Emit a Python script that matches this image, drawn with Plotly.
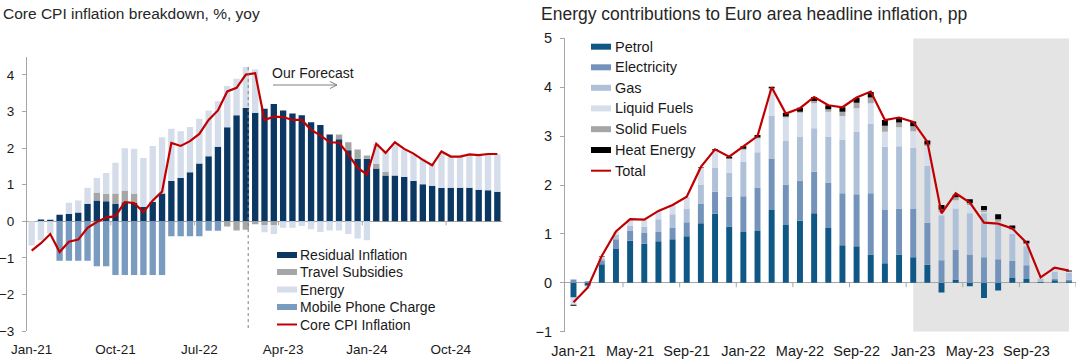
import plotly.graph_objects as go

W, H = 1080, 359
FONT = "Arial, 'Liberation Sans', sans-serif"

# ---------------- Left chart data ----------------
left_months = [
    "Jan-21", "Feb-21", "Mar-21", "Apr-21", "May-21", "Jun-21", "Jul-21", "Aug-21", "Sep-21", "Oct-21", "Nov-21", "Dec-21",
    "Jan-22", "Feb-22", "Mar-22", "Apr-22", "May-22", "Jun-22", "Jul-22", "Aug-22", "Sep-22", "Oct-22", "Nov-22", "Dec-22",
    "Jan-23", "Feb-23", "Mar-23", "Apr-23", "May-23", "Jun-23", "Jul-23", "Aug-23", "Sep-23", "Oct-23", "Nov-23", "Dec-23",
    "Jan-24", "Feb-24", "Mar-24", "Apr-24", "May-24", "Jun-24", "Jul-24", "Aug-24", "Sep-24", "Oct-24", "Nov-24", "Dec-24",
    "Jan-25", "Feb-25", "Mar-25",
]
left_tick_labels = ["Jan-21", "Oct-21", "Jul-22", "Apr-23", "Jan-24", "Oct-24"]

residual = [0, 0.05, 0.04, 0.18, 0.2, 0.24, 0.48, 0.57, 0.55, 0.47,
            0.52, 0.5, 0.39, 0.53, 0.76, 1.1, 1.18, 1.34, 1.58, 1.78,
            2.04, 2.57, 2.9, 3.1, 2.97, 3.08, 3.21, 3.03, 2.95, 2.9,
            2.71, 2.63, 2.37, 2.24, 1.94, 1.71, 1.71, 1.44, 1.25, 1.25,
            1.21, 1.1, 1.01, 0.97, 0.91, 0.92, 0.92, 0.92, 0.86, 0.85, 0.81]
travel = [0, 0, 0, 0, 0, 0, 0, 0.22, 0.2, 0.29,
          0.32, 0.26, 0, 0, 0, 0, 0, 0, 0, 0,
          0, -0.14, -0.25, -0.23, -0.08, -0.1, -0.1, 0, 0, 0,
          0, 0, 0, 0.13, 0.22, 0.25, 0.09, 0.13, 0.1, 0,
          0, 0, 0, 0, 0, 0, 0, 0, 0, 0, 0]
energy_core = [-0.66, -0.52, -0.34, 0, 0.31, 0.33, 0.44, 0.39, 0.57, 0.84,
               1.16, 1.22, 1.34, 1.53, 1.54, 1.43, 1.28, 1.24, 1.22, 1.25,
               1.24, 1.13, 1.0, 1.12, 1.18, -0.2, -0.25, -0.18, -0.18, -0.13,
               -0.22, -0.29, -0.25, -0.25, -0.35, -0.47, -0.52, 0.55, 0.55, 0.85,
               0.75, 0.73, 0.7, 0.6, 0.97, 0.85, 0.85, 0.9, 0.95, 0.98, 1.02]
mobile = [0, 0, 0, -1.08, -1.08, -1.08, -1.08, -1.23, -1.23, -1.47,
          -1.47, -1.47, -1.47, -1.47, -1.47, -0.41, -0.41, -0.41, -0.41, -0.26,
          -0.26, 0, 0, 0, 0, 0, 0, 0, 0, 0,
          0, 0, 0, 0, 0, 0, 0, 0, 0, 0,
          0, 0, 0, 0, 0, 0, 0, 0, 0, 0, 0]
core_cpi = [-0.8, -0.6, -0.35, -0.84, -0.56, -0.5, -0.18, -0.02, 0.1, 0.14,
            0.52, 0.5, 0.25, 0.57, 0.81, 2.14, 2.06, 2.19, 2.39, 2.77,
            3.03, 3.55, 3.65, 4.01, 4.05, 2.77, 2.86, 2.85, 2.77, 2.77,
            2.5, 2.35, 2.16, 2.15, 1.83, 1.46, 1.28, 2.12, 1.87, 2.16,
            1.98, 1.85, 1.68, 1.53, 1.91, 1.77, 1.77, 1.83, 1.81, 1.84, 1.84]

# ---------------- Right chart data ----------------
right_months = left_months[:36]
right_tick_labels = ["Jan-21", "May-21", "Sep-21", "Jan-22", "May-22", "Sep-22", "Jan-23", "May-23", "Sep-23"]

petrol = [-0.3, -0.06, 0.38, 0.69, 0.86, 0.8, 0.85, 0.89, 0.95, 1.22,
          1.41, 1.15, 1.04, 1.06, 1.49, 1.18, 1.27, 1.42, 1.12, 0.77,
          0.75, 0.58, 0.4, 0.58, 0.52, 0.37, -0.2, 0.07, -0.07, -0.31,
          -0.16, 0.1, 0.08, 0.02, 0.05, 0.03]
electricity = [0.06, 0.03, 0.08, 0.2, 0.2, 0.22, 0.19, 0.23, 0.29, 0.4,
               0.45, 0.61, 0.73, 0.89, 1.05, 0.83, 0.82, 0.85, 0.93, 1.06,
               1.06, 1.25, 1.09, 0.94, 1.0, 0.86, 0.46, 0.6, 0.58, 0.52,
               0.48, 0.35, 0.28, 0.0, 0.03, 0.03]
gas = [0.02, 0.0, 0.04, 0.1, 0.11, 0.12, 0.26, 0.28, 0.28, 0.39,
       0.5, 0.49, 0.7, 0.72, 0.87, 0.89, 0.9, 0.89, 0.94, 1.1,
       1.28, 1.43, 1.29, 1.27, 1.24, 1.16, 0.92, 0.85, 0.84, 0.9,
       0.7, 0.55, 0.39, 0.07, 0.15, 0.14]
liquid_fuels = [-0.15, -0.06, 0.03, 0.05, 0.13, 0.15, 0.17, 0.19, 0.24, 0.35,
                0.35, 0.29, 0.25, 0.28, 0.56, 0.48, 0.49, 0.51, 0.51, 0.48,
                0.48, 0.41, 0.31, 0.39, 0.34, 0.41, 0.07, 0.17, 0.17, 0.03,
                0.07, 0.08, 0.04, 0.02, 0.05, 0.03]
solid_fuels = [0, 0, 0, 0, 0, 0, 0, 0, 0, 0,
               0, 0, 0.02, 0.02, 0.01, 0.02, 0.02, 0.05, 0.05, 0.09,
               0.11, 0.12, 0.12, 0.1, 0.1, 0.03, 0.05, 0.06, 0.04, 0.04,
               0.05, 0.03, 0.02, 0, 0.01, 0]
heat_energy = [-0.02, 0, 0.01, 0, 0, 0, 0, 0, 0, 0.01,
               0.02, 0.04, 0.05, 0.05, 0.03, 0.08, 0.08, 0.08, 0.08, 0.09,
               0.1, 0.11, 0.12, 0.1, 0.1, 0.08, 0.09, 0.05, 0.08, 0.08,
               0.1, 0.06, 0.05, 0.0, 0.02, 0.02]
total_energy = [-0.4, -0.1, 0.55, 1.05, 1.3, 1.29, 1.47, 1.59, 1.76, 2.37,
                2.73, 2.58, 2.79, 3.0, 4.0, 3.46, 3.57, 3.8, 3.63, 3.59,
                3.79, 3.91, 3.33, 3.38, 3.29, 2.88, 1.42, 1.83, 1.64, 1.23,
                1.21, 1.11, 0.82, 0.11, 0.31, 0.25]

# ---------------- Styles ----------------
C_RES, C_TRAV, C_EN, C_MOB = "#0B3763", "#A6A6A6", "#D5DDEA", "#7A9BC0"
C_PET, C_ELEC, C_GAS, C_LIQ, C_SOL, C_HEAT = "#0F5886", "#7393BA", "#AFC1D8", "#D5DEEA", "#A6A6A6", "#000000"
RED = "#C00000"
AX = "#A6A6A6"
TXT = "#1A1A1A"


def px_x(px):
    return px / W


def px_y(py):
    return 1 - py / H


fig = go.Figure()

left_series = [("Residual Inflation", residual, C_RES), ("Travel Subsidies", travel, C_TRAV),
               ("Energy", energy_core, C_EN), ("Mobile Phone Charge", mobile, C_MOB)]
for name, vals, col in left_series:
    fig.add_trace(go.Bar(x=left_months, y=vals, name=name, width=0.68,
                         marker=dict(color=col, line=dict(width=0)),
                         xaxis="x", yaxis="y", showlegend=False))
fig.add_trace(go.Scatter(x=left_months, y=core_cpi, name="Core CPI Inflation", mode="lines",
                         line=dict(color=RED, width=2.2), xaxis="x", yaxis="y", showlegend=False))

right_series = [("Petrol", petrol, C_PET), ("Electricity", electricity, C_ELEC), ("Gas", gas, C_GAS),
                ("Liquid Fuels", liquid_fuels, C_LIQ), ("Solid Fuels", solid_fuels, C_SOL),
                ("Heat Energy", heat_energy, C_HEAT)]
for name, vals, col in right_series:
    fig.add_trace(go.Bar(x=right_months, y=vals, name=name, width=0.42,
                         marker=dict(color=col, line=dict(width=0)),
                         xaxis="x2", yaxis="y2", showlegend=False))
fig.add_trace(go.Scatter(x=right_months, y=total_energy, name="Total", mode="lines",
                         line=dict(color=RED, width=2.2), xaxis="x2", yaxis="y2", showlegend=False))

shapes = []
annotations = []

# forecast shading (right)
shapes.append(dict(type="rect", xref="x2", yref="y2", x0=24, x1=35, y0=-1, y1=5,
                   fillcolor="#E4E4E4", line=dict(width=0), layer="below"))
# forecast divider (left)
shapes.append(dict(type="line", xref="x", yref="y", x0=23.25, x1=23.25, y0=-2.92, y1=4.3,
                   line=dict(color="#7F7F7F", width=1, dash="dot")))
# small ticks on zero lines
for t in [8.5, 17.5, 26.5, 35.5, 44.5]:
    shapes.append(dict(type="line", xref="x", yref="y", x0=t, x1=t, y0=0, y1=-0.11,
                       line=dict(color=AX, width=1)))
for t in [3.5, 7.5, 11.5, 15.5, 19.5, 23.5, 27.5, 31.5, 35.5]:
    shapes.append(dict(type="line", xref="x2", yref="y2", x0=t, x1=t, y0=0, y1=-0.09,
                       line=dict(color=AX, width=1)))

# "Our Forecast" arrow
ax0, ax1, ay = 273, 337, 85
shapes.append(dict(type="path", xref="paper", yref="paper",
                   path=f"M{px_x(ax0)},{px_y(ay)} L{px_x(ax1)},{px_y(ay)} "
                        f"M{px_x(ax1 - 7)},{px_y(ay - 3.5)} L{px_x(ax1)},{px_y(ay)} L{px_x(ax1 - 7)},{px_y(ay + 3.5)}",
                   line=dict(color="#7F7F7F", width=1)))
annotations.append(dict(text="Our Forecast", xref="paper", yref="paper", x=px_x(270), y=px_y(72.5),
                        xanchor="left", yanchor="middle", showarrow=False,
                        font=dict(family=FONT, size=14, color=TXT)))

# titles
annotations.append(dict(text="Core CPI inflation breakdown, %, yoy", xref="paper", yref="paper",
                        x=px_x(1), y=px_y(14), xanchor="left", yanchor="middle", showarrow=False,
                        font=dict(family=FONT, size=15.5, color="#262626")))
annotations.append(dict(text="Energy contributions to Euro area headline inflation, pp", xref="paper", yref="paper",
                        x=px_x(539), y=px_y(14), xanchor="left", yanchor="middle", showarrow=False,
                        font=dict(family=FONT, size=17.5, color="#262626")))

# manual legends
left_leg = [("Residual Inflation", C_RES, "bar"), ("Travel Subsidies", C_TRAV, "bar"), ("Energy", C_EN, "bar"),
            ("Mobile Phone Charge", C_MOB, "bar"), ("Core CPI Inflation", RED, "line")]
left_rows = [255, 272, 289.5, 307, 324.5]
for (name, col, kind), ry in zip(left_leg, left_rows):
    if kind == "bar":
        shapes.append(dict(type="rect", xref="paper", yref="paper", x0=px_x(277), x1=px_x(297),
                           y0=px_y(ry + 3), y1=px_y(ry - 3), fillcolor=col, line=dict(width=0)))
    else:
        shapes.append(dict(type="line", xref="paper", yref="paper", x0=px_x(277), x1=px_x(297),
                           y0=px_y(ry), y1=px_y(ry), line=dict(color=col, width=2)))
    annotations.append(dict(text=name, xref="paper", yref="paper", x=px_x(298), y=px_y(ry),
                            xanchor="left", yanchor="middle", showarrow=False,
                            font=dict(family=FONT, size=14, color=TXT)))

right_leg = [("Petrol", C_PET, "bar"), ("Electricity", C_ELEC, "bar"), ("Gas", C_GAS, "bar"),
             ("Liquid Fuels", C_LIQ, "bar"), ("Solid Fuels", C_SOL, "bar"), ("Heat Energy", C_HEAT, "bar"),
             ("Total", RED, "line")]
right_rows = [46.7, 67.3, 87.8, 108.4, 129.2, 150.0, 170.7]
for (name, col, kind), ry in zip(right_leg, right_rows):
    if kind == "bar":
        shapes.append(dict(type="rect", xref="paper", yref="paper", x0=px_x(591), x1=px_x(611),
                           y0=px_y(ry + 3), y1=px_y(ry - 3), fillcolor=col, line=dict(width=0)))
    else:
        shapes.append(dict(type="line", xref="paper", yref="paper", x0=px_x(591), x1=px_x(611),
                           y0=px_y(ry), y1=px_y(ry), line=dict(color=col, width=2)))
    annotations.append(dict(text=name, xref="paper", yref="paper", x=px_x(612.5), y=px_y(ry),
                            xanchor="left", yanchor="middle", showarrow=False,
                            font=dict(family=FONT, size=14.5, color=TXT)))

fig.update_layout(
    width=W, height=H,
    margin=dict(l=0, r=0, t=0, b=0, autoexpand=False),
    paper_bgcolor="white", plot_bgcolor="white",
    barmode="relative",
    showlegend=False,
    hovermode=False,
    font=dict(family=FONT, color=TXT),
    shapes=shapes,
    annotations=annotations,
    xaxis=dict(domain=[px_x(27), px_x(502)], anchor="y", type="category",
               range=[-0.5, 50.5], tickmode="array", tickvals=left_tick_labels, ticktext=left_tick_labels,
               showline=False, ticks="", showgrid=False, zeroline=False,
               tickfont=dict(size=13.5, color=TXT), ticklabelstandoff=8),
    yaxis=dict(domain=[1 - 331 / H, 1 - 56.7 / H], anchor="x", range=[-3, 4.5],
               tickmode="array", tickvals=[-3, -2, -1, 0, 1, 2, 3, 4],
               showline=True, linecolor=AX, linewidth=1, ticks="outside", ticklen=4, tickcolor=AX,
               zeroline=True, zerolinecolor=AX, zerolinewidth=1, showgrid=False,
               tickfont=dict(size=13.5, color=TXT), ticklabelstandoff=5),
    xaxis2=dict(domain=[px_x(565), px_x(1076)], anchor="y2", type="category",
                range=[-0.6, 35.5], tickmode="array", tickvals=right_tick_labels, ticktext=right_tick_labels,
                showline=False, ticks="", showgrid=False, zeroline=False,
                tickfont=dict(size=14.5, color=TXT), ticklabelstandoff=9),
    yaxis2=dict(domain=[1 - 331.7 / H, 1 - 38.3 / H], anchor="x2", range=[-1, 5],
                tickmode="array", tickvals=[-1, 0, 1, 2, 3, 4, 5],
                showline=True, linecolor=AX, linewidth=1, ticks="outside", ticklen=4, tickcolor=AX,
                zeroline=True, zerolinecolor=AX, zerolinewidth=1, showgrid=False,
                tickfont=dict(size=14.5, color=TXT), ticklabelstandoff=5),
)

fig.write_html("out.html", config={"displayModeBar": False, "staticPlot": True},
               post_script="document.body.style.margin='0';document.body.style.overflow='hidden';")
